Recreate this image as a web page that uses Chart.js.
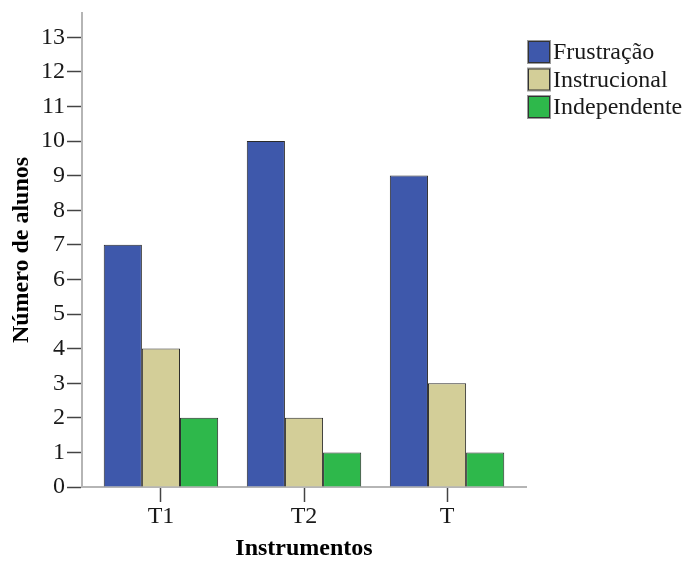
<!DOCTYPE html>
<html>
<head>
<meta charset="utf-8">
<script src="https://cdn.jsdelivr.net/npm/chart.js@4/dist/chart.umd.min.js"></script>
<style>
html,body{margin:0;padding:0;background:#fff;}
canvas{display:block;}
</style>
</head>
<body>
<canvas id="c" width="687" height="561"></canvas>
<script>
const categories = ["T1", "T2", "T"];
const seriesNames = ["Frustração", "Instrucional", "Independente"];
const frustracao = [7, 10, 9];
const instrucional = [4, 2, 3];
const independente = [2, 1, 1];
const yTicks = [0,1,2,3,4,5,6,7,8,9,10,11,12,13];
const colors = ["#3e58ab", "#d3ce98", "#2eb84b"];

const FONT = "'Liberation Serif', 'Times New Roman', serif";
const series = [frustracao, instrucional, independente];

const legendPlugin = {
  id: 'customLegend',
  afterDraw(chart) {
    const ctx = chart.ctx;
    ctx.save();
    const x0 = 528, size = 22, step = 27.5, top0 = 41;
    chart.data.datasets.forEach((ds, i) => {
      const y = top0 + i * step;
      ctx.fillStyle = ds.backgroundColor;
      ctx.fillRect(x0, y, size, size);
      ctx.strokeStyle = '#9a9a9a';
      ctx.lineWidth = 1;
      ctx.strokeRect(x0 - 0.5, y - 0.5, size + 1, size + 1);
      ctx.strokeStyle = '#333';
      ctx.strokeRect(x0 + 0.5, y + 0.5, size - 1, size - 1);
      ctx.fillStyle = '#1a1a1a';
      ctx.font = "24px " + FONT;
      ctx.textBaseline = 'middle';
      ctx.textAlign = 'left';
      ctx.fillText(ds.label, x0 + size + 3, y + size / 2 + 1);
    });
    ctx.restore();
  }
};

new Chart(document.getElementById('c'), {
  type: 'bar',
  data: {
    datasets: series.map((vals, i) => ({
      label: seriesNames[i],
      data: vals.map((v, j) => ({x: j, y: v})),
      backgroundColor: colors[i],
      borderColor: '#2a2a2a',
      borderWidth: 1,
      categoryPercentage: 0.8,
      barPercentage: 1.0
    }))
  },
  options: {
    responsive: false,
    animation: false,
    events: [],
    layout: { padding: { top: 13, right: 161, left: 0, bottom: 0 } },
    plugins: { legend: { display: false }, tooltip: { enabled: false } },
    scales: {
      x: {
        type: 'linear',
        min: -0.552,
        max: 2.552,
        offset: false,
        afterBuildTicks: (s) => { s.ticks = categories.map((c, i) => ({value: i})); },
        afterFit: (s) => { s.height = 74; s.paddingLeft = 0; s.paddingRight = 0; },
        ticks: {
          callback: (v) => categories[v] !== undefined ? categories[v] : '',
          font: { family: FONT, size: 24 },
          color: '#1a1a1a',
          padding: 0,
          maxRotation: 0,
          autoSkip: false
        },
        grid: { offset: false, drawOnChartArea: false, drawTicks: true, tickLength: 15, tickColor: '#444', tickWidth: 1.5 },
        border: { color: '#b5b5b5', width: 2 },
        title: {
          display: true,
          text: 'Instrumentos',
          font: { family: FONT, size: 24, weight: 'bold', lineHeight: 1 },
          color: '#000',
          padding: 0
        }
      },
      y: {
        min: 0,
        max: 13.7,
        afterBuildTicks: (s) => { s.ticks = yTicks.map(v => ({value: v})); },
        afterFit: (s) => { s.width = 82; s.paddingTop = 0; s.paddingBottom = 0; },
        ticks: {
          font: { family: FONT, size: 24 },
          color: '#1a1a1a',
          padding: 2
        },
        grid: { drawOnChartArea: false, drawTicks: true, tickLength: 15, tickColor: '#444', tickWidth: 1.5 },
        border: { color: '#b5b5b5', width: 2 },
        title: {
          display: true,
          text: 'Número de alunos',
          font: { family: FONT, size: 24, weight: 'bold', lineHeight: 1 },
          color: '#000',
          padding: { top: 10, bottom: 0 }
        }
      }
    }
  },
  plugins: [legendPlugin]
});
</script>
</body>
</html>
